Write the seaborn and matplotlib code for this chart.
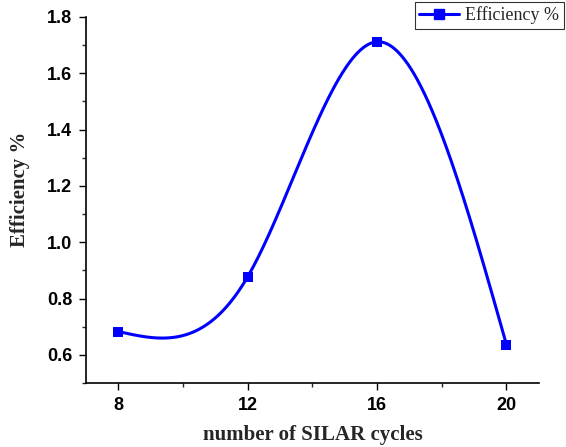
import numpy as np
import pandas as pd
import seaborn as sns
import matplotlib
matplotlib.use("Agg")
import matplotlib.pyplot as plt
from matplotlib.ticker import MultipleLocator, FormatStrFormatter
from matplotlib.lines import Line2D

cycles = [8, 12, 16, 20]
efficiency = [0.683, 0.878, 1.712, 0.636]
series_name = "Efficiency %"

def natural_spline(x, y, xs):
    x = np.asarray(x, float); y = np.asarray(y, float)
    n = len(x)
    h = np.diff(x)
    A = np.zeros((n, n)); b = np.zeros(n)
    A[0, 0] = 1; A[-1, -1] = 1
    for i in range(1, n - 1):
        A[i, i - 1] = h[i - 1]
        A[i, i] = 2 * (h[i - 1] + h[i])
        A[i, i + 1] = h[i]
        b[i] = 6 * ((y[i + 1] - y[i]) / h[i] - (y[i] - y[i - 1]) / h[i - 1])
    M = np.linalg.solve(A, b)
    out = np.empty_like(xs)
    for k, xv in enumerate(xs):
        i = min(np.searchsorted(x, xv, side="right") - 1, n - 2)
        i = max(i, 0)
        t1 = x[i + 1] - xv; t0 = xv - x[i]
        out[k] = (M[i] * t1**3 + M[i + 1] * t0**3) / (6 * h[i]) \
            + (y[i] / h[i] - M[i] * h[i] / 6) * t1 \
            + (y[i + 1] / h[i] - M[i + 1] * h[i] / 6) * t0
    return out

df = pd.DataFrame({"cycles": cycles, "eff": efficiency})
xs = np.linspace(min(cycles), max(cycles), 400)
smooth = pd.DataFrame({"cycles": xs, "eff": natural_spline(cycles, efficiency, xs)})

sns.set_style("ticks")
fig = plt.figure(figsize=(5.66, 4.47), dpi=100)
ax = fig.add_axes([0.152, 0.143, 0.800, 0.819])

blue = "#0000FF"
sns.lineplot(data=smooth, x="cycles", y="eff", ax=ax, color=blue, lw=2.2, legend=False)
sns.scatterplot(data=df, x="cycles", y="eff", ax=ax, color=blue, marker="s", s=55,
                edgecolor=blue, linewidth=0, zorder=3, legend=False)

ax.set_xlim(7, 21)
ax.set_ylim(0.5, 1.8)
ax.xaxis.set_major_locator(MultipleLocator(4))
ax.xaxis.set_minor_locator(MultipleLocator(2))
ax.yaxis.set_major_locator(MultipleLocator(0.2))
ax.yaxis.set_minor_locator(MultipleLocator(0.1))
ax.set_xticks(cycles)
ax.set_xticklabels([str(c) for c in cycles])
ax.yaxis.set_major_formatter(FormatStrFormatter("%.1f"))
ax.tick_params(which="major", direction="out", length=5, width=1, colors="black",
               labelsize=13, pad=5)
ax.tick_params(which="minor", direction="out", length=3, width=1)
for lab in ax.get_xticklabels() + ax.get_yticklabels():
    lab.set_fontfamily("Liberation Sans")
    lab.set_fontweight("bold")

for s in ["top", "right"]:
    ax.spines[s].set_visible(False)
for s in ["left", "bottom"]:
    ax.spines[s].set_linewidth(1.2)
    ax.spines[s].set_color("black")

ax.set_xlabel("number of SILAR cycles", fontfamily="Liberation Serif", fontweight="bold",
              fontsize=15)
ax.set_ylabel("Efficiency %", fontfamily="Liberation Serif", fontweight="bold",
              fontsize=15)
ax.xaxis.set_label_coords(0.5, -0.115, transform=ax.transAxes)
ax.yaxis.set_label_coords(-0.124, 0.53, transform=ax.transAxes)

h = Line2D([], [], color=blue, lw=2.2, marker="s", markersize=7)
leg = fig.legend([h], [series_name], loc="upper left", bbox_to_anchor=(0.733, 0.996),
                 frameon=True, fancybox=False, edgecolor="black", borderpad=0.25,
                 handlelength=2.2, handletextpad=0.35, borderaxespad=0.0,
                 prop={"family": "Liberation Serif", "size": 13})
leg.get_frame().set_linewidth(0.8)

fig.savefig("out.png", dpi=100)
